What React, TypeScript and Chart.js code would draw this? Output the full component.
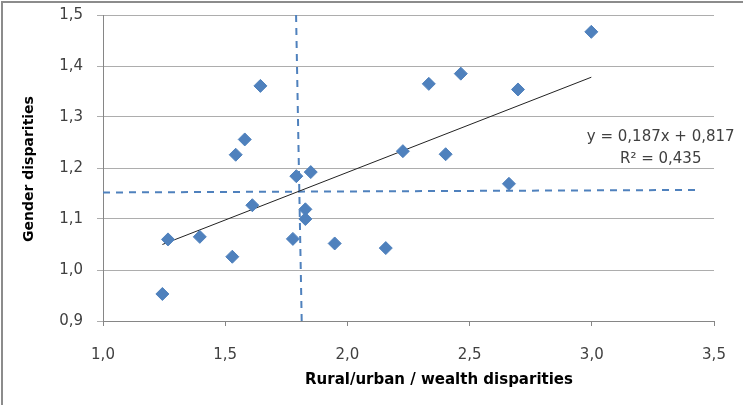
import React, { useEffect, useRef } from "react";
import { Chart, registerables } from "chart.js";

Chart.register(...registerables);

// Scatter points: rural/urban / wealth disparities (x) vs gender disparities (y)
const pointX = [1.243, 1.266, 1.396, 1.529, 1.543, 1.58, 1.611, 1.644, 1.777, 1.791, 1.828, 1.828, 1.85, 1.948, 2.157, 2.227, 2.333, 2.402, 2.464, 2.661, 2.698, 2.998];
const pointY = [0.953, 1.06, 1.065, 1.026, 1.226, 1.256, 1.127, 1.361, 1.061, 1.184, 1.119, 1.1, 1.192, 1.052, 1.043, 1.233, 1.365, 1.227, 1.385, 1.169, 1.354, 1.467];

// Linear trend line (endpoints)
const trendX = [1.243, 2.998];
const trendY = [1.05, 1.378];

// Dashed reference lines (averages)
const vLineX = [1.79, 1.813];
const vLineY = [1.5, 0.9];
const hLineX = [1.0, 3.428];
const hLineY = [1.152, 1.157];

// Trend equation label
const eqLines = ["y = 0,187x + 0,817", "R² = 0,435"];
const eqAnchor = { x: 3.282, y: 1.261 };

// Axes
const xMin = 1.0;
const xMax = 3.5;
const xStep = 0.5;
const yMin = 0.9;
const yMax = 1.5;
const yStep = 0.1;
const xTitle = "Rural/urban / wealth disparities";
const yTitle = "Gender disparities";

const pts = (xs: number[], ys: number[]) => xs.map((x, i) => ({ x, y: ys[i] }));
const fmt = (v: number | string) => Number(v).toFixed(1).replace(".", ",");

const BLUE = "#4F81BD";
const GRID = "#ADADAD";
const AXIS = "#868686";
const FONT = "'DejaVu Sans', sans-serif";

export default function App() {
  const ref = useRef<HTMLCanvasElement | null>(null);

  useEffect(() => {
    document.body.style.margin = "0";
    const canvas = ref.current;
    if (!canvas) return;

    const extras = {
      id: "extras",
      beforeDraw(chart: any) {
        const ctx = chart.ctx;
        ctx.save();
        ctx.fillStyle = "#ffffff";
        ctx.fillRect(0, 0, chart.width, chart.height);
        ctx.strokeStyle = "#8C8C8C";
        ctx.lineWidth = 2;
        ctx.strokeRect(2, 2, chart.width + 10, chart.height + 10);
        ctx.restore();
      },
      afterDatasetsDraw(chart: any) {
        const ctx = chart.ctx;
        const xs = chart.scales.x;
        const ys = chart.scales.y;
        const ca = chart.chartArea;
        const cx = xs.getPixelForValue(eqAnchor.x);
        const cy = ys.getPixelForValue(eqAnchor.y);
        ctx.save();
        ctx.font = `15px ${FONT}`;
        ctx.fillStyle = "#404040";
        ctx.textAlign = "center";
        ctx.textBaseline = "middle";
        eqLines.forEach((t, i) => ctx.fillText(t, cx, cy + i * 22));

        // axis titles
        ctx.fillStyle = "#000000";
        ctx.font = `bold 15px ${FONT}`;
        ctx.textAlign = "center";
        ctx.textBaseline = "middle";
        ctx.fillText(xTitle, ca.left + 336, ca.bottom + 59);

        ctx.font = `bold 14px ${FONT}`;
        ctx.translate(ca.left - 74, ca.top + 154);
        ctx.rotate(-Math.PI / 2);
        ctx.fillText(yTitle, 0, 0);
        ctx.restore();
      },
    };

    const chart = new Chart(canvas, {
      type: "scatter",
      data: {
        datasets: [
          {
            label: "Countries",
            data: pts(pointX, pointY),
            backgroundColor: BLUE,
            borderColor: BLUE,
            borderWidth: 1,
            pointStyle: "rectRot",
            pointRadius: 6.5,
            order: 0,
          },
          {
            label: "Trend",
            type: "line",
            data: pts(trendX, trendY),
            borderColor: "#222222",
            borderWidth: 1,
            pointRadius: 0,
            showLine: true,
            fill: false,
            order: 1,
          },
          {
            label: "Vertical mean",
            type: "line",
            data: pts(vLineX, vLineY),
            borderColor: BLUE,
            borderWidth: 2,
            borderDash: [7, 6],
            pointRadius: 0,
            showLine: true,
            fill: false,
            order: 2,
          },
          {
            label: "Horizontal mean",
            type: "line",
            data: pts(hLineX, hLineY),
            borderColor: BLUE,
            borderWidth: 2,
            borderDash: [7, 6],
            pointRadius: 0,
            showLine: true,
            fill: false,
            order: 3,
          },
        ],
      },
      options: {
        animation: false,
        responsive: false,
        devicePixelRatio: 1,
        layout: { padding: { left: 0, top: 15, right: 29, bottom: 0 } },
        plugins: {
          legend: { display: false },
          tooltip: { enabled: false },
        },
        scales: {
          x: {
            type: "linear",
            min: xMin,
            max: xMax,
            ticks: {
              stepSize: xStep,
              callback: (v: any) => fmt(v),
              font: { family: FONT, size: 15 },
              color: "#404040",
              padding: 20,
            },
            grid: {
              drawOnChartArea: false,
              drawTicks: true,
              tickLength: 5,
              color: AXIS,
            },
            border: { display: true, color: AXIS, width: 1 },
            title: { display: false },
            afterFit: (s: any) => {
              s.height = 84;
              s.paddingLeft = 0;
              s.paddingRight = 0;
            },
          },
          y: {
            type: "linear",
            min: yMin,
            max: yMax,
            ticks: {
              stepSize: yStep,
              callback: (v: any) => fmt(v),
              font: { family: FONT, size: 15 },
              color: "#404040",
              padding: 14,
            },
            grid: {
              drawOnChartArea: true,
              drawTicks: true,
              tickLength: 6,
              color: GRID,
            },
            border: { display: true, color: AXIS, width: 1 },
            title: { display: false },
            afterFit: (s: any) => {
              s.width = 103;
              s.paddingTop = 0;
              s.paddingBottom = 0;
            },
          },
        },
      },
      plugins: [extras],
    } as any);

    return () => chart.destroy();
  }, []);

  return (
    <div style={{ width: 743, height: 405 }}>
      <canvas ref={ref} width={743} height={405} style={{ display: "block" }} />
    </div>
  );
}
